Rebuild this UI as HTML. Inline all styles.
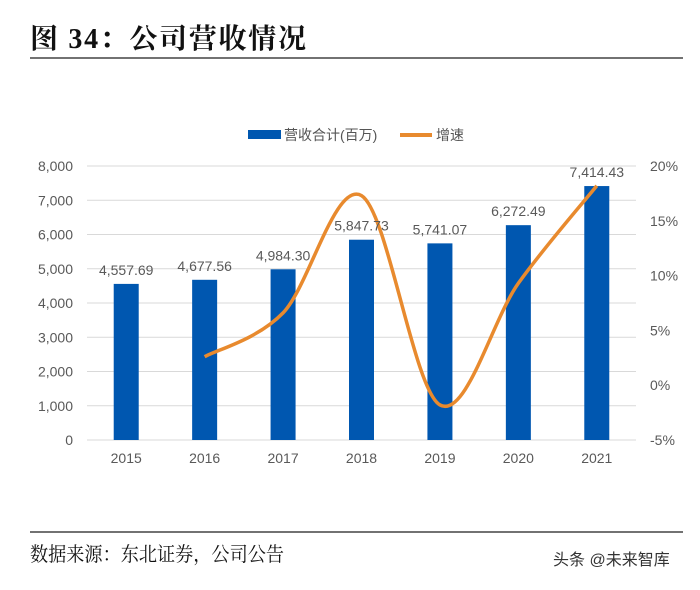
<!DOCTYPE html>
<html><head><meta charset="utf-8"><style>
body{margin:0;background:#fff;width:700px;height:585px;overflow:hidden;font-family:"Liberation Sans","Noto Sans CJK SC",sans-serif}
</style></head><body>
<svg width="700" height="585" xmlns="http://www.w3.org/2000/svg" id="chart">
<text x="30" y="48" font-family="'Liberation Serif','Noto Serif CJK SC',serif" font-weight="bold" font-size="28" fill="#111" textLength="276" lengthAdjust="spacing">图 34：公司营收情况</text>
<line x1="30" y1="58" x2="683" y2="58" stroke="#444" stroke-width="1.5"/>
<g>
<rect x="248" y="130" width="33" height="9" fill="#0057b0"/>
<text x="284" y="140" font-size="14" fill="#555">营收合计(百万)</text>
<line x1="400" y1="135" x2="432" y2="135" stroke="#e88a2e" stroke-width="4"/>
<text x="436" y="140" font-size="14" fill="#555">增速</text>
</g>
<g id="grid"></g><g id="bars"></g><g id="line"></g><g id="labels"></g>
<line x1="30" y1="532" x2="683" y2="532" stroke="#444" stroke-width="1.5"/>
<text x="30" y="561" font-family="'Liberation Serif','Noto Serif CJK SC',serif" font-size="20" fill="#111" textLength="254" lengthAdjust="spacingAndGlyphs">数据来源：东北证券，公司公告</text>
<text x="553" y="565" font-size="16" fill="#333">头条 @未来智库</text>
</svg>
<script>
const categories=["2015","2016","2017","2018","2019","2020","2021"];
const revenue=[4557.69,4677.56,4984.30,5847.73,5741.07,6272.49,7414.43];
const revenueLabels=["4,557.69","4,677.56","4,984.30","5,847.73","5,741.07","6,272.49","7,414.43"];
const growth=[null,2.6,6.6,17.3,-1.8,9.3,18.2];
const leftTicks=[0,1000,2000,3000,4000,5000,6000,7000,8000];
const rightTicks=[-5,0,5,10,15,20];
const NS="http://www.w3.org/2000/svg";
const svg=document.getElementById('chart');
const L=87,R=636,T=166,B=440;
const xC=i=>L+(R-L)/categories.length*(i+0.5);
const yL=v=>B-(v/8000)*(B-T);
const yR=v=>B-((v+5)/25)*(B-T);
function mk(tag,attrs,parent){const e=document.createElementNS(NS,tag);for(const k in attrs)e.setAttribute(k,attrs[k]);parent.appendChild(e);return e;}
const g=document.getElementById('grid');
leftTicks.forEach(v=>{
 const ln=mk('line',{x1:L,x2:R,y1:yL(v),y2:yL(v),stroke:'#d9d9d9','stroke-width':1},g);
 
 
 const t=mk('text',{x:73,y:yL(v)+5,'text-anchor':'end','font-size':14,fill:'#595959'},g);
 t.textContent=v.toLocaleString('en-US');
 
 
});
rightTicks.forEach(v=>{
 const t=mk('text',{x:650,y:yR(v)+5,'font-size':14,fill:'#595959'},g);
 t.textContent=v+'%';
 
 
});
const bg=document.getElementById('bars'),lg=document.getElementById('labels');
categories.forEach((c,i)=>{
 const r=mk('rect',{x:xC(i)-12.5,y:yL(revenue[i]),width:25,height:B-yL(revenue[i]),fill:'#0057b0'},bg);
 
 
 const t=mk('text',{x:xC(i),y:yL(revenue[i])-9,'text-anchor':'middle','font-size':14,fill:'#595959'},lg);
 t.textContent=revenueLabels[i];
 
 
 const x=mk('text',{x:xC(i),y:463,'text-anchor':'middle','font-size':14,fill:'#595959'},lg);
 x.textContent=c;
 
 
});
const pts=[];growth.forEach((v,i)=>{if(v!==null)pts.push([xC(i),yR(v)]);});
let d='M'+pts[0][0]+','+pts[0][1];
for(let i=0;i<pts.length-1;i++){
 const p0=pts[i-1]||pts[i],p1=pts[i],p2=pts[i+1],p3=pts[i+2]||p2;
 const c1=[p1[0]+(p2[0]-p0[0])/6,p1[1]+(p2[1]-p0[1])/6];
 const c2=[p2[0]-(p3[0]-p1[0])/6,p2[1]-(p3[1]-p1[1])/6];
 d+=` C${c1[0]},${c1[1]} ${c2[0]},${c2[1]} ${p2[0]},${p2[1]}`;
}
const path=mk('path',{d:d,fill:'none',stroke:'#e88a2e','stroke-width':3.5},document.getElementById('line'));


</script>
</body></html>
